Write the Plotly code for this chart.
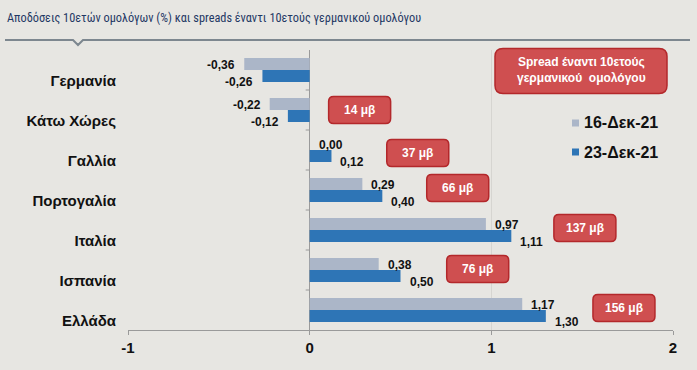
import plotly.graph_objects as go

countries = ["Γερμανία", "Κάτω Χώρες", "Γαλλία", "Πορτογαλία", "Ιταλία", "Ισπανία", "Ελλάδα"]
y16 = [-0.36, -0.22, 0.00, 0.29, 0.97, 0.38, 1.17]
y23 = [-0.26, -0.12, 0.12, 0.40, 1.11, 0.50, 1.30]
spread_labels = [None, "14 μβ", "37 μβ", "66 μβ", "137 μβ", "76 μβ", "156 μβ"]
spread_xpos = [None, 0.275, 0.595, 0.815, 1.515, 0.925, 1.73]
series_names = ["16-Δεκ-21", "23-Δεκ-21"]
xticks = [-1, 0, 1, 2]

BG = "#e7e6e2"
GREY = "#abb6c8"
BLUE = "#2e75b6"
RED = "#cf4f50"
RED_BORDER = "#b3282b"
FONT = "Liberation Sans"

idx = list(range(len(countries)))
colors = [GREY, BLUE]

fig = go.Figure()
for name, vals, col in zip(series_names, [y16, y23], colors):
    fig.add_trace(go.Bar(y=idx, x=vals, orientation="h", name=name,
                         marker=dict(color=col, line=dict(width=0)), showlegend=False))

def fmt(v):
    return f"{v:.2f}".replace(".", ",")

annotations = []
for i, (a, b) in enumerate(zip(y16, y23)):
    for v, ys in ((a, 5), (b, -12)):
        neg = v < 0
        annotations.append(dict(
            x=v, y=i, xref="x", yref="y", text=fmt(v), showarrow=False,
            xanchor="right" if neg else "left", yanchor="middle",
            xshift=-7 if neg else 7, yshift=ys,
            font=dict(family=FONT, size=12, color="#111111", weight="bold")))

shapes = []

def rounded(w, h, r, dy=0):
    x0, x1, y0, y1 = -w / 2, w / 2, -h / 2 + dy, h / 2 + dy
    return (f"M {x0+r},{y0} L {x1-r},{y0} Q {x1},{y0} {x1},{y0+r} "
            f"L {x1},{y1-r} Q {x1},{y1} {x1-r},{y1} L {x0+r},{y1} "
            f"Q {x0},{y1} {x0},{y1-r} L {x0},{y0+r} Q {x0},{y0} {x0+r},{y0} Z")

yoff = [0, 0, -3, 2, 2, 1, 2]
for i, (lab, xp) in enumerate(zip(spread_labels, spread_xpos)):
    if lab is None:
        continue
    shapes.append(dict(type="path", xref="x", yref="y", xsizemode="pixel", ysizemode="pixel",
                       xanchor=xp, yanchor=i, path=rounded(62, 27, 5, yoff[i]),
                       fillcolor=RED, line=dict(color=RED_BORDER, width=1.5), layer="above"))
    annotations.append(dict(x=xp, y=i, xref="x", yref="y", text=lab, showarrow=False,
                            xanchor="center", yanchor="middle", yshift=yoff[i],
                            font=dict(family=FONT, size=12, color="white", weight="bold")))

# pixel -> paper helpers
W, H, L, R, T, B = 697, 370, 128, 24, 50, 40
pw, ph = W - L - R, H - T - B
def px(x): return (x - L) / pw
def py(y): return (H - B - y) / ph

# explanation box
shapes.append(dict(type="path", xref="paper", yref="paper", xsizemode="pixel", ysizemode="pixel",
                   xanchor=px(581), yanchor=py(71), path=rounded(172, 45, 8),
                   fillcolor=RED, line=dict(color=RED_BORDER, width=1.5), layer="above"))
annotations.append(dict(x=px(581), y=py(70), xref="paper", yref="paper",
                        xanchor="center", yanchor="middle",
                        text="Spread έναντι 10ετούς<br>γερμανικού  ομολόγου", showarrow=False,
                        font=dict(family=FONT, size=12, color="white", weight="bold")))

# manual legend
for k, (name, col) in enumerate(zip(series_names, colors)):
    yc = 123 + 29 * k
    shapes.append(dict(type="rect", xref="paper", yref="paper",
                       x0=px(572), x1=px(579), y0=py(yc - 3.5), y1=py(yc + 3.5),
                       fillcolor=col, line=dict(width=0)))
    annotations.append(dict(x=px(582), y=py(yc), xref="paper", yref="paper",
                            xanchor="left", yanchor="middle", text=name, showarrow=False,
                            font=dict(family=FONT, size=16, color="#111111", weight="bold")))

# small ticks on y axis at zero
for k in range(len(countries) - 1):
    shapes.append(dict(type="line", xref="x", yref="y", xsizemode="pixel", xanchor=0,
                       x0=-4, x1=0, y0=k + 0.5, y1=k + 0.5,
                       line=dict(color="#9a9a9a", width=1)))

# title underline with notch
shapes.append(dict(type="path", xref="paper", yref="paper",
                   path=(f"M {px(5)},{py(40)} L {px(73)},{py(40)} L {px(78)},{py(45)} "
                         f"L {px(83)},{py(40)} L {px(690)},{py(40)}"),
                   line=dict(color="#7d878f", width=2), layer="above"))

annotations.append(dict(x=px(5), y=py(18), xref="paper", yref="paper", xanchor="left",
                        yanchor="middle", showarrow=False,
                        text="Αποδόσεις 10ετών ομολόγων (%) και spreads έναντι 10ετούς γερμανικού ομολόγου",
                        font=dict(family="Roboto Condensed, DejaVu Sans Condensed, Liberation Sans",
                                  size=12.3, color="#1f3864")))

fig.update_layout(
    width=W, height=H,
    margin=dict(l=L, r=R, t=T, b=B, autoexpand=False),
    paper_bgcolor=BG, plot_bgcolor=BG,
    barmode="group", bargap=0.4, bargroupgap=0,
    showlegend=False,
    annotations=annotations, shapes=shapes,
)
fig.update_xaxes(range=[-1, 2], tickvals=xticks, ticktext=[str(t) for t in xticks],
                 showgrid=True, gridcolor="#d6d5d1", gridwidth=1,
                 zeroline=True, zerolinecolor="#9a9a9a", zerolinewidth=1,
                 showline=True, linecolor="#9a9a9a", linewidth=1,
                 ticks="outside", ticklen=4, tickcolor="#9a9a9a",
                 tickfont=dict(family=FONT, size=15, color="#111111", weight="bold"),
                 fixedrange=True, automargin=False)
fig.update_yaxes(range=[6.5, -0.5], tickvals=idx, ticktext=countries,
                 showgrid=False, zeroline=False, showline=False, ticks="",
                 ticklabelstandoff=11, ticklabelshift=-11,
                 tickfont=dict(family=FONT, size=15, color="#111111", weight="bold"),
                 fixedrange=True, automargin=False)

fig.write_html("out.html", config={"displayModeBar": False},
               post_script="document.body.style.margin='0';"
                           "document.body.style.background='" + BG + "';")
